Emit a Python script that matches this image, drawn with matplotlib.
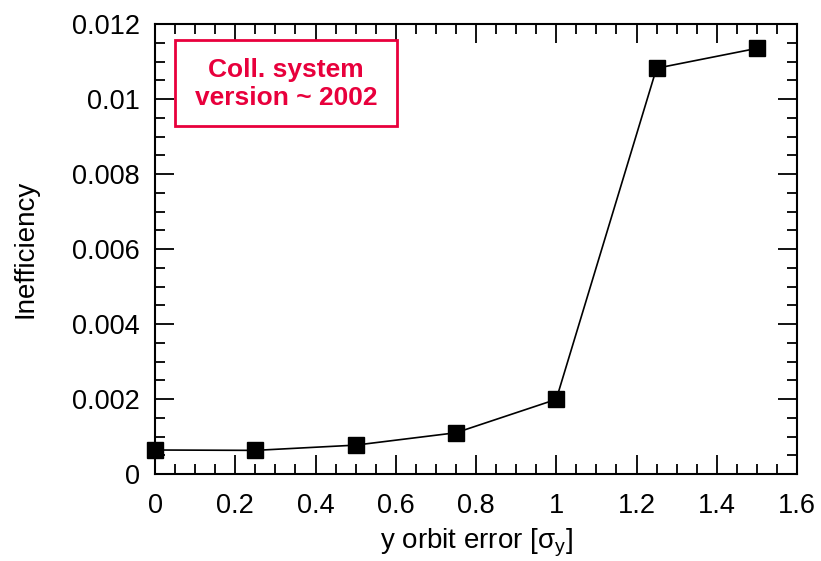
import matplotlib.pyplot as plt
from matplotlib.patches import Rectangle
from matplotlib.ticker import FuncFormatter, MultipleLocator

# Inefficiency vs vertical orbit error
orbit_error = [0.0, 0.25, 0.5, 0.75, 1.0, 1.25, 1.5]
inefficiency = [0.00064, 0.00063, 0.00077, 0.0011, 0.00199, 0.01082, 0.01135]

plt.rcParams["font.family"] = ["Liberation Sans", "DejaVu Sans"]
plt.rcParams["mathtext.fontset"] = "custom"
plt.rcParams["mathtext.rm"] = "Liberation Sans"
plt.rcParams["mathtext.it"] = "Liberation Sans"

RED = "#e8003c"

fig = plt.figure(figsize=(8.21, 5.61), dpi=100)
ax = fig.add_axes([155 / 821, 1 - 474 / 561, (797 - 155) / 821, (474 - 24) / 561])

ax.plot(orbit_error, inefficiency, color="black", linewidth=1.2,
        marker="s", markersize=11.5, markerfacecolor="black",
        markeredgecolor="black", clip_on=False, zorder=3)

ax.set_xlim(0, 1.6)
ax.set_ylim(0, 0.012)
ax.xaxis.set_major_locator(MultipleLocator(0.2))
ax.xaxis.set_minor_locator(MultipleLocator(0.05))
ax.yaxis.set_major_locator(MultipleLocator(0.002))
ax.yaxis.set_minor_locator(MultipleLocator(0.0005))
plain = FuncFormatter(lambda v, pos: f"{round(v, 6):g}")
ax.xaxis.set_major_formatter(plain)
ax.yaxis.set_major_formatter(plain)

ax.tick_params(which="both", direction="in", top=True, right=True,
               labelsize=19.5, width=1.3)
ax.tick_params(which="major", length=14)
ax.tick_params(which="minor", length=7)
ax.tick_params(axis="x", which="major", pad=14)
ax.tick_params(axis="y", which="major", pad=11)
for spine in ax.spines.values():
    spine.set_linewidth(1.5)

ax.set_xlabel("y orbit error [σ$_\\mathrm{y}$]", fontsize=20, labelpad=5)
ax.set_ylabel("Inefficiency", fontsize=20, labelpad=24)

# label box in the upper left corner
ax.add_patch(Rectangle((0.05, 0.00928), 0.553, 0.00229, facecolor="white",
                       edgecolor=RED, linewidth=2, zorder=4))
ax.text(0.3265, 0.01039, "Coll. system\nversion ~ 2002", color=RED,
        fontsize=19, fontweight="bold", ha="center", va="center",
        linespacing=1.22, zorder=5)

fig.savefig("out.png", dpi=100)
